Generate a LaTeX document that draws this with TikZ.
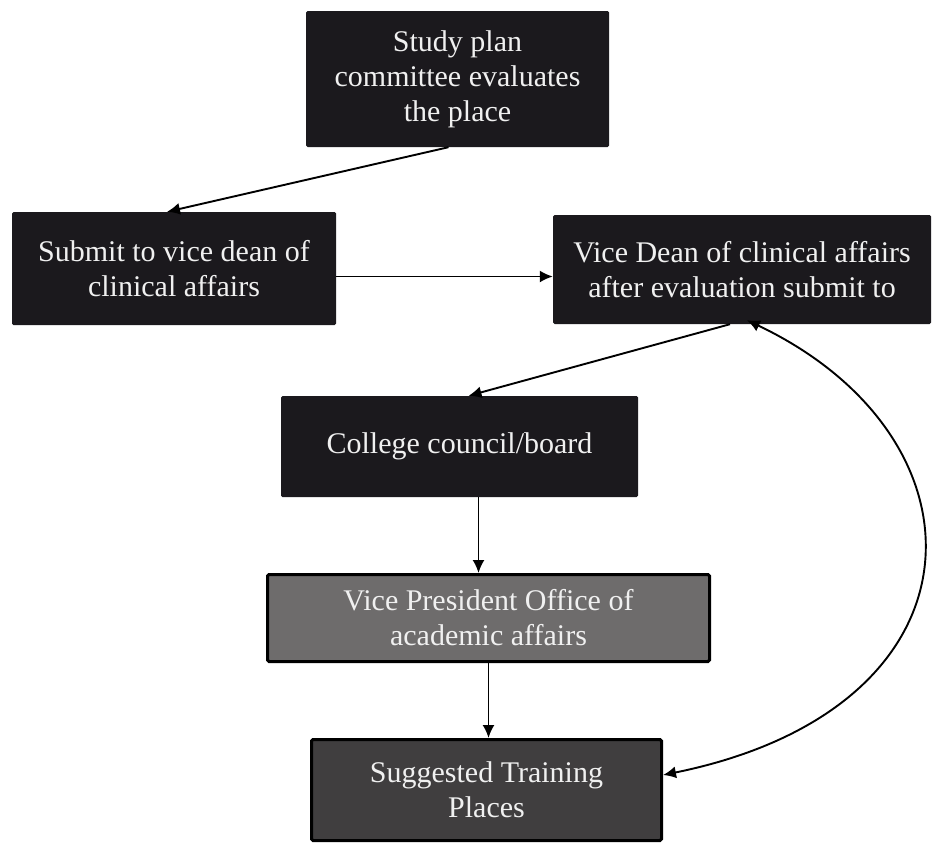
\documentclass[tikz,border=0pt]{standalone}
\usepackage{fontspec}
\setmainfont{Liberation Serif}
\usetikzlibrary{arrows.meta}
\definecolor{boxdark}{HTML}{1B191D}
\definecolor{boxgray}{HTML}{6E6C6C}
\definecolor{boxmid}{HTML}{403E3F}
\begin{document}
\begin{tikzpicture}[x=1pt,y=-1pt,
        stepbox/.style={fill=boxdark,text=white!94!black,align=center,inner sep=0pt,rounded corners=1.5pt,font=\fontsize{30}{35}\selectfont},
        greybox/.style={stepbox,draw=black,line width=3pt},
        arr/.style={-{Latex[length=13pt,width=12pt]},line width=1.9pt},
        dblarr/.style={{Latex[length=13pt,width=12pt]}-{Latex[length=13pt,width=12pt]},line width=1.9pt}]
        \useasboundingbox (0,0) rectangle (936,846);
        %BOXES
        \node[stepbox,minimum width=303pt,minimum height=136pt] (plan) at (457.5,79) {Study plan\\committee evaluates\\the place};
        \node[stepbox,minimum width=324pt,minimum height=113pt] (submit) at (174,268.5) {Submit to vice dean of\\clinical affairs};
        \node[stepbox,minimum width=378pt,minimum height=109pt] (vicedean) at (742,269.5) {Vice Dean of clinical affairs\\after evaluation submit to};
        \node[stepbox,minimum width=357pt,minimum height=101pt] (council) at (459.5,446.5) {College council/board};
        \node[greybox,fill=boxgray,minimum width=442pt,minimum height=87pt] (vpoffice) at (488.5,618) {Vice President Office of\\academic affairs};
        \node[greybox,fill=boxmid,minimum width=350pt,minimum height=101pt] (training) at (486.5,790) {Suggested Training\\Places};

        %ARROWS
        \draw[arr] ([xshift=-9pt]plan.south) -- ([xshift=-7pt]submit.north);
        \draw[arr] ([yshift=-8pt]submit.east) -- ([yshift=-8pt]submit.east -| vicedean.west);
        \draw[arr] ([xshift=-12pt]vicedean.south) -- ([xshift=9pt]council.north);
        \draw[arr] ([xshift=19pt]council.south) -- ([xshift=19pt]council.south |- vpoffice.north);
        \draw[arr] (vpoffice.south) -- (vpoffice.south |- training.north);
        %BACK LOOP
        \draw[dblarr] ([xshift=5pt,yshift=4pt]vicedean.south) .. controls +(248,118) and +(330,-67) .. ([yshift=15pt]training.east);
\end{tikzpicture}
\end{document}
